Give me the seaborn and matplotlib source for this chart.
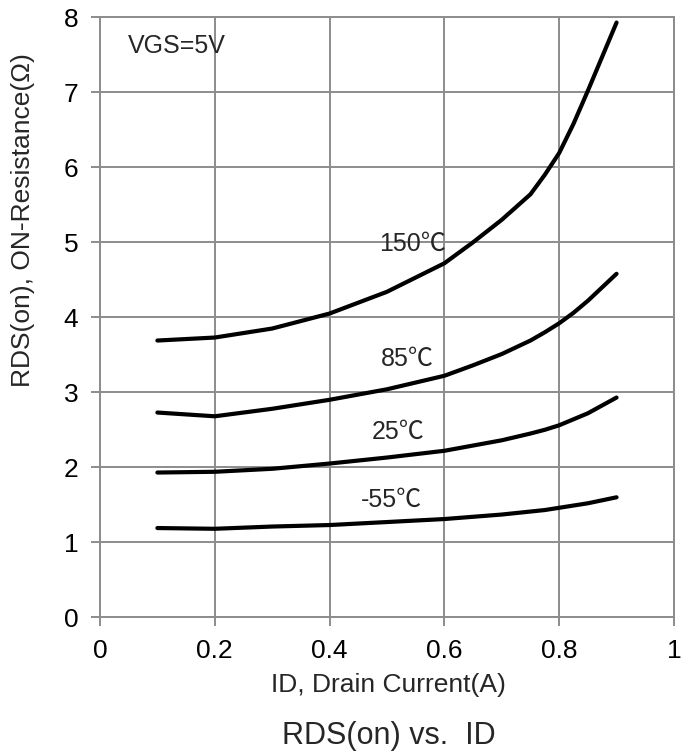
import matplotlib
matplotlib.use("Agg")
import matplotlib.pyplot as plt
import seaborn as sns
import pandas as pd

id_a = [0.1, 0.2, 0.3, 0.4, 0.5, 0.6, 0.65, 0.7, 0.75, 0.775, 0.8, 0.825, 0.85, 0.9]
r_150 = [3.69, 3.73, 3.85, 4.05, 4.34, 4.72, 5.00, 5.30, 5.64, 5.90, 6.19, 6.58, 7.02, 7.93]
r_85 = [2.73, 2.68, 2.78, 2.90, 3.04, 3.22, 3.36, 3.51, 3.69, 3.80, 3.92, 4.06, 4.22, 4.58]
r_25 = [1.93, 1.94, 1.98, 2.05, 2.13, 2.22, 2.29, 2.36, 2.45, 2.50, 2.56, 2.64, 2.72, 2.93]
r_m55 = [1.19, 1.18, 1.21, 1.23, 1.27, 1.31, 1.34, 1.37, 1.41, 1.43, 1.46, 1.49, 1.52, 1.60]
temps = ["150℃", "85℃", "25℃", "-55℃"]
label_pos = [(0.486, 4.98), (0.489, 3.45), (0.473, 2.47), (0.455, 1.57)]

x_ticks = [0, 0.2, 0.4, 0.6, 0.8, 1]
x_ticklabels = ["0", "0.2", "0.4", "0.6", "0.8", "1"]
y_ticks = [0, 1, 2, 3, 4, 5, 6, 7, 8]

rows = []
for t, vals in zip(temps, [r_150, r_85, r_25, r_m55]):
    for x, v in zip(id_a, vals):
        rows.append({"ID": x, "R": v, "T": t})
df = pd.DataFrame(rows)

sns.set_theme(style="white")
plt.rcParams["font.family"] = ["Liberation Sans", "Noto Sans CJK SC", "DejaVu Sans"]

fig = plt.figure(figsize=(6.82, 7.55), dpi=100)
ax = fig.add_axes([0.1466, 0.1824, 0.8416, 0.7947])

sns.lineplot(data=df, x="ID", y="R", hue="T", palette=["black"] * 4,
             linewidth=3.0, legend=False, ax=ax, sort=False,
             solid_capstyle="round", solid_joinstyle="round")

gc = "#8c8c8c"
ax.set_xlim(0, 1)
ax.set_ylim(0, 8)
ax.set_xticks(x_ticks)
ax.set_xticklabels(x_ticklabels)
ax.set_yticks(y_ticks)
ax.grid(True, color=gc, linewidth=1.4)
ax.set_axisbelow(True)
for s in ax.spines.values():
    s.set_color(gc)
    s.set_linewidth(1.4)
ax.tick_params(axis="both", which="both", direction="out", length=6.5,
               width=1.4, color=gc, labelsize=19, labelcolor="black",
               pad=9, bottom=True, left=True)

ax.set_xlabel("")
ax.set_ylabel("")
fig.text(0.57, 0.0834, "ID, Drain Current(A)", ha="center", va="baseline", fontsize=19)
fig.text(0.033, 0.709, "RDS(on), ON-Resistance(Ω)", ha="center", va="center",
         rotation=90, fontsize=19)
fig.text(0.57, 0.0145, "RDS(on) vs.  ID", ha="center", va="baseline", fontsize=22)

ax.text(0.048, 7.62, "VGS=5V", ha="left", va="center", fontsize=18)
for t, (lx, ly) in zip(temps, label_pos):
    ax.text(lx, ly, t, ha="left", va="center", fontsize=18)

fig.savefig("out.png", dpi=100)
